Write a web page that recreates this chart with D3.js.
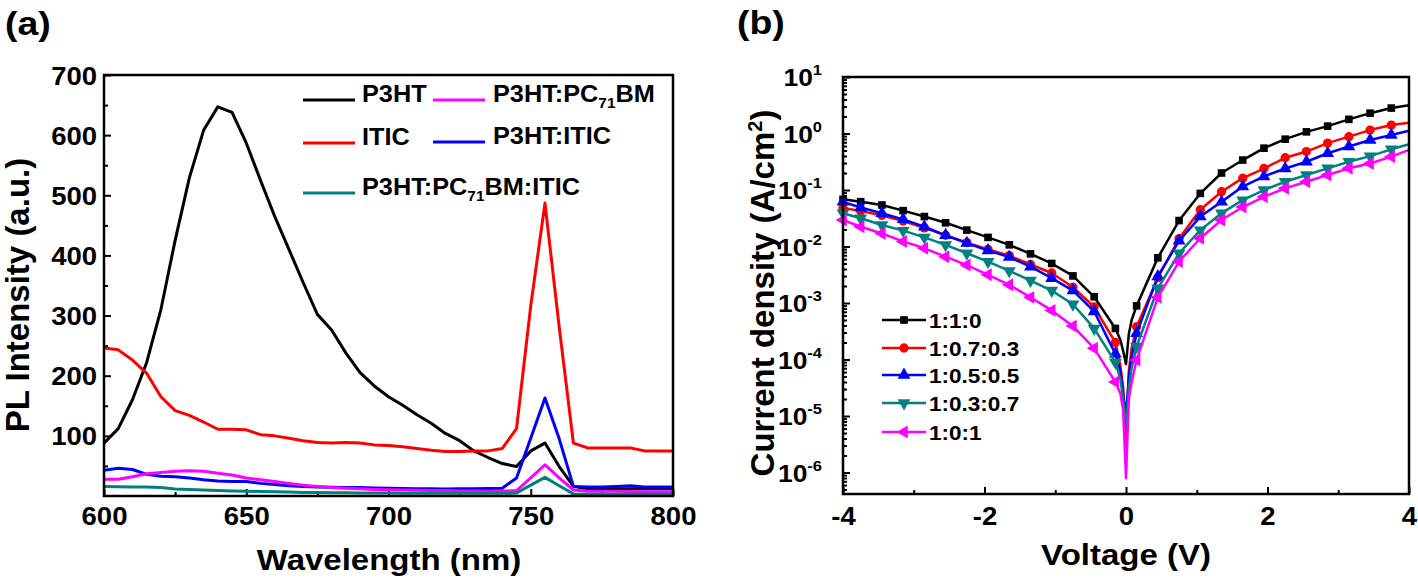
<!DOCTYPE html>
<html><head><meta charset="utf-8">
<script src="https://cdn.jsdelivr.net/npm/d3@7"></script>
<style>
body{margin:0;background:#fff}
svg{display:block}
text{font-family:"Liberation Sans",Arial,sans-serif;font-weight:bold;fill:#000}
</style>
</head><body>
<svg id="c" width="1418" height="583"></svg>
<script>
// ---------- Panel (a) data: PL spectra ----------
const wavelength = [600,605,610,615,620,625,630,635,640,645,650,655,660,665,670,675,680,685,690,695,700,705,710,715,720,725,730,735,740,745,750,755,760,765,770,775,780,785,790,795,800];
const plP3HT   = [88,112,160,222,310,425,529,608,647,638,587,525,465,410,355,302,276,238,205,183,165,151,135,121,104,92,75,64,54,49,75,88,49,16,12,12,12,12,12,12,12];
const plITIC   = [246,243,226,204,165,142,134,123,111,111,110,102,100,96,92,89,88,89,88,85,84,82,79,76,74,74,75,75,79,112,316,487,281,88,80,80,80,80,75,75,75];
const plP3HT_ITIC = [43,46,44,36,33,32,30,27,25,24,24,21,19,17,16,15,14.5,14,14,13.5,13,12.5,12,12,11.6,12,12,12.5,13,30,96,163,95,16,15,15,16,17,15,15,15];
const plP3HT_PCBM = [28,28,32,37,39,41,42,41,38,35,30,27,24,21,18,16,14,13,12,11,10.5,10,9.5,9,9,8.5,8.5,8,8,9,30,52,30,10,8,8,8,7.5,7,7,7];
const plTernary = [16,15.5,15,15,14,11.5,11,10,9,8.5,8,7.5,7,6.5,6,6,5.5,5.5,5,5,5,4.5,4.5,4.5,4.5,4.5,4.5,4.5,4.5,5,18,31,17,3.5,3,3,3,3,3,3,3];
const plTicksX = [600,650,700,750,800];
const plMinorX = [625,675,725,775];
const plTicksY = [100,200,300,400,500,600,700];
const plMinorY = [50,150,250,350,450,550,650];

// ---------- Panel (b) data: J-V curves ----------
const markV = [-4,-3.75,-3.45,-3.15,-2.85,-2.55,-2.25,-1.95,-1.65,-1.35,-1.05,-0.75,-0.45,-0.15,0.15,0.45,0.75,1.05,1.35,1.65,1.95,2.25,2.55,2.85,3.15,3.45,3.75];
const extraV = [-0.08,-0.04,0,0.04,0.08,4];
const j110 = [0.0684,0.0621,0.0543,0.0431,0.0339,0.0263,0.0195,0.0145,0.0107,7.41e-3,5.01e-3,3.02e-3,1.29e-3,3.55e-4,8.9e-4,6.3e-3,0.0288,0.0871,0.200,0.339,0.550,0.794,1.07,1.35,1.78,2.29,2.82];
const j110x = [2.24e-4,1.41e-4,8.3e-5,2.82e-4,5.0e-4,3.16];
const j1073 = [0.0479,0.0427,0.0355,0.0282,0.0214,0.0158,0.0117,8.9e-3,6.9e-3,4.8e-3,3.4e-3,1.9e-3,8.5e-4,2.0e-4,3.8e-4,2.8e-3,0.0138,0.0447,0.0933,0.162,0.240,0.372,0.479,0.676,0.879,1.15,1.41];
const j1073x = [7.9e-5,3.2e-5,2.5e-6,6.3e-5,1.6e-4,1.55];
const j1055 = [0.0617,0.0490,0.0389,0.0302,0.0224,0.0158,0.0115,8.5e-3,6.5e-3,4.4e-3,2.75e-3,1.66e-3,7.1e-4,1.26e-4,2.9e-4,2.95e-3,0.0126,0.0339,0.0617,0.115,0.174,0.240,0.316,0.447,0.589,0.767,0.94];
const j1055x = [6.3e-5,2.5e-5,1.0e-5,5.0e-5,1.12e-4,1.12];
const j1037 = [0.0389,0.0316,0.0240,0.0191,0.0145,0.0107,7.6e-3,5.4e-3,3.7e-3,2.5e-3,1.66e-3,9.5e-4,3.55e-4,8.9e-5,1.7e-4,1.82e-3,7.6e-3,0.0195,0.0389,0.0661,0.100,0.140,0.184,0.242,0.316,0.398,0.525];
const j1037x = [4.5e-5,2.0e-5,6.3e-6,3.2e-5,7.1e-5,0.646];
const j101 = [0.0295,0.0224,0.0170,0.0123,9.3e-3,6.6e-3,4.7e-3,3.16e-3,2.1e-3,1.26e-3,7.4e-4,3.9e-4,1.58e-4,4.0e-5,9.8e-5,1.26e-3,5.4e-3,0.014,0.0295,0.050,0.0759,0.107,0.140,0.184,0.242,0.295,0.389];
const j101x = [2.5e-5,1.26e-5,7.9e-7,2.0e-5,4.0e-5,0.513];
const jvNames = ['1:1:0','1:0.7:0.3','1:0.5:0.5','1:0.3:0.7','1:0:1'];
const jvTicksX = [-4,-2,0,2,4];
const jvMinorX = [-3,-1,1,3];
const jvTicksExp = [1,0,-1,-2,-3,-4,-5,-6];

// ---------- drawing ----------
const svg = d3.select('#c');
const S = 1.1; // horizontal text stretch

function styleAxis(g, size, stretch) {
  g.select('.domain').remove();
  g.selectAll('line').attr('stroke', '#000').attr('stroke-width', 2);
  g.selectAll('text').style('font-size', size + 'px');
  if (stretch) g.selectAll('text').attr('transform', `scale(${S},1)`);
}
function stext(x, y, anchor, size) {
  return svg.append('text').attr('transform', `translate(${x},${y}) scale(${S},1)`)
    .attr('text-anchor', anchor).style('font-size', size + 'px');
}
const plain = d => String(d);

// Panel (a)
const xa = d3.scaleLinear().domain([600, 800]).range([104, 673]);
const ya = d3.scaleLinear().domain([0, 700]).range([496, 75]);

svg.append('g').attr('transform', 'translate(0,496)')
  .call(d3.axisBottom(xa).tickValues(plMinorX).tickSize(-4).tickFormat(''))
  .call(g => styleAxis(g, 24, false));
svg.append('g').attr('transform', 'translate(0,496)')
  .call(d3.axisBottom(xa).tickValues(plTicksX).tickSize(-7).tickPadding(11).tickFormat(plain))
  .call(g => styleAxis(g, 25, true));
svg.append('g').attr('transform', 'translate(104,0)')
  .call(d3.axisLeft(ya).tickValues(plMinorY).tickSize(-4).tickFormat(''))
  .call(g => styleAxis(g, 24, false));
svg.append('g').attr('transform', 'translate(104,0)')
  .call(d3.axisLeft(ya).tickValues(plTicksY).tickSize(-7).tickPadding(7 / S).tickFormat(plain))
  .call(g => { styleAxis(g, 25, true); g.selectAll('text').attr('dy', '0.36em'); });

const plSeries = [
  {name: 'P3HT', vals: plP3HT, color: '#000000'},
  {name: 'ITIC', vals: plITIC, color: '#ff0000'},
  {name: 'P3HT:ITIC', vals: plP3HT_ITIC, color: '#0000ff'},
  {name: 'P3HT:PC71BM', vals: plP3HT_PCBM, color: '#ff00ff'},
  {name: 'P3HT:PC71BM:ITIC', vals: plTernary, color: '#008080'}
];
const lineA = d3.line().x(d => xa(d[0])).y(d => ya(d[1]));
plSeries.forEach(s => {
  svg.append('path').datum(wavelength.map((w, i) => [w, s.vals[i]]))
    .attr('d', lineA).attr('fill', 'none').attr('stroke', s.color)
    .attr('stroke-width', 3).attr('stroke-linejoin', 'round');
});
svg.append('rect').attr('x', 104).attr('y', 75).attr('width', 569).attr('height', 421)
  .attr('fill', 'none').attr('stroke', '#000').attr('stroke-width', 2.5);

// Legend (a)
const legA = [
  {x: 303, y: 100, c: '#000000', parts: [['P3HT']]},
  {x: 303, y: 143, c: '#ff0000', parts: [['ITIC']]},
  {x: 303, y: 193, c: '#008080', parts: [['P3HT:PC'], ['71', 'sub'], ['BM:ITIC']]},
  {x: 433, y: 100, c: '#ff00ff', parts: [['P3HT:PC'], ['71', 'sub'], ['BM']]},
  {x: 433, y: 142, c: '#0000ff', parts: [['P3HT:ITIC']]}
];
legA.forEach(l => {
  svg.append('line').attr('x1', l.x).attr('x2', l.x + 52).attr('y1', l.y).attr('y2', l.y)
    .attr('stroke', l.c).attr('stroke-width', 3);
  const t = stext(l.x + 59 + (l.x > 400 ? 1 : 0), l.y + 8, 'start', 23);
  l.parts.forEach(p => {
    if (p[1] === 'sub') t.append('tspan').attr('dy', 6).style('font-size', '14px').text(p[0]);
    else t.append('tspan').attr('dy', t.selectAll('tspan').size() > 0 ? -6 : 0).text(p[0]);
  });
});

stext(5, 35, 'start', 34).text('(a)');
stext(389, 570, 'middle', 30).text('Wavelength (nm)');
svg.append('text').attr('transform', 'translate(29,295) rotate(-90)').attr('text-anchor', 'middle')
  .style('font-size', '33px').text('PL Intensity (a.u.)');

// Panel (b)
const xb = d3.scaleLinear().domain([-4, 4]).range([843, 1409]);
const yb = d3.scaleLog().domain([Math.pow(10, -6.38), 10]).range([494, 77]);

const minorY = [];
for (let e = -7; e <= 0; e++) for (let m = 2; m <= 9; m++) {
  const v = m * Math.pow(10, e);
  if (v > yb.domain()[0] && v < 10) minorY.push(v);
}
svg.append('g').attr('transform', 'translate(0,494)')
  .call(d3.axisBottom(xb).tickValues(jvMinorX).tickSize(-4).tickFormat(''))
  .call(g => styleAxis(g, 24, false));
svg.append('g').attr('transform', 'translate(0,494)')
  .call(d3.axisBottom(xb).tickValues(jvTicksX).tickSize(-7).tickPadding(13).tickFormat(plain))
  .call(g => styleAxis(g, 25, true));
svg.append('g').attr('transform', 'translate(843,0)')
  .call(d3.axisLeft(yb).tickValues(minorY).tickSize(-4).tickFormat(''))
  .call(g => styleAxis(g, 24, false));
svg.append('g').attr('transform', 'translate(843,0)')
  .call(d3.axisLeft(yb).tickValues(jvTicksExp.map(e => Math.pow(10, e))).tickSize(-7).tickFormat(''))
  .call(g => styleAxis(g, 24, false));
jvTicksExp.forEach(e => {
  const t = stext(822, yb(Math.pow(10, e)) + 9, 'end', 24);
  t.append('tspan').text('10');
  t.append('tspan').attr('dy', -11).style('font-size', '15px').text(e < 0 ? '-' + (-e) : String(e));
});

const jvSeries = [
  {m: j110, x: j110x, c: '#000000', sym: d3.symbolSquare, size: 58, rot: 0},
  {m: j1073, x: j1073x, c: '#ff0000', sym: d3.symbolCircle, size: 68, rot: 0},
  {m: j1055, x: j1055x, c: '#0000ff', sym: d3.symbolTriangle, size: 72, rot: 0},
  {m: j1037, x: j1037x, c: '#008080', sym: d3.symbolTriangle, size: 72, rot: 180},
  {m: j101, x: j101x, c: '#ff00ff', sym: d3.symbolTriangle, size: 72, rot: -90}
];
const lineB = d3.line().x(d => xb(d[0])).y(d => yb(d[1]));
jvSeries.forEach(s => {
  const pts = markV.map((v, i) => [v, s.m[i]]).concat(extraV.map((v, i) => [v, s.x[i]]))
    .sort((a, b) => a[0] - b[0]);
  svg.append('path').datum(pts).attr('d', lineB).attr('fill', 'none')
    .attr('stroke', s.c).attr('stroke-width', 2.5).attr('stroke-linejoin', 'round');
  const sp = d3.symbol(s.sym, s.size)();
  svg.append('g').selectAll('path').data(markV.map((v, i) => [v, s.m[i]])).join('path')
    .attr('d', sp).attr('fill', s.c)
    .attr('transform', d => `translate(${xb(d[0])},${yb(d[1])}) rotate(${s.rot})`);
});
svg.append('rect').attr('x', 843).attr('y', 77).attr('width', 566).attr('height', 417)
  .attr('fill', 'none').attr('stroke', '#000').attr('stroke-width', 2.5);

// Legend (b)
const legRows = [320, 348, 375, 403, 432];
jvSeries.forEach((s, i) => {
  const y = legRows[i];
  svg.append('line').attr('x1', 882).attr('x2', 926).attr('y1', y).attr('y2', y)
    .attr('stroke', s.c).attr('stroke-width', 2.5);
  svg.append('path').attr('d', d3.symbol(s.sym, s.size)())
    .attr('fill', s.c).attr('transform', `translate(904,${y}) rotate(${s.rot})`);
  stext(929, y + 8, 'start', 20.5).text(jvNames[i]);
});

stext(737, 34, 'start', 34).text('(b)');
stext(1126, 565, 'middle', 30).text('Voltage (V)');
const tb = svg.append('text').attr('transform', 'translate(774,293) rotate(-90)').attr('text-anchor', 'middle')
  .style('font-size', '33px');
tb.append('tspan').text('Current density (A/cm');
tb.append('tspan').attr('dy', -12).style('font-size', '20px').text('2');
tb.append('tspan').attr('dy', 12).text(')');
</script>
</body></html>
